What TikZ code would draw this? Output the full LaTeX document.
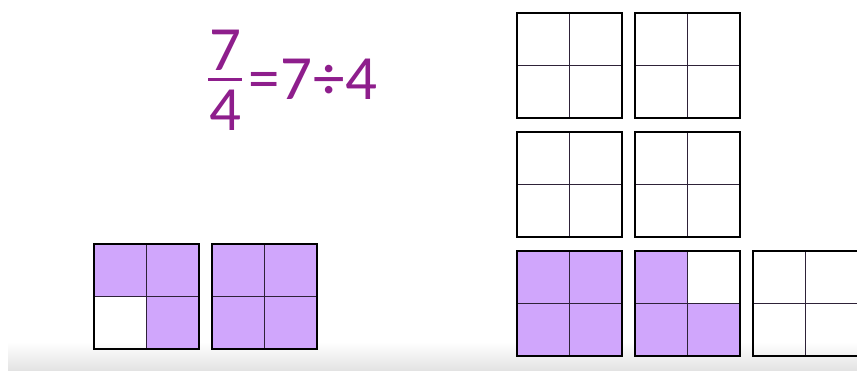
\documentclass[tikz,border=0pt]{standalone}
\usepackage{fontspec}
\setmainfont{Carlito}
\definecolor{lilac}{HTML}{D0A6FC}
\definecolor{plum}{HTML}{8E1E8C}
\definecolor{gridline}{HTML}{2E2238}
\begin{document}
\begin{tikzpicture}[x=1pt,y=-1pt,
    eqtext/.style={plum,inner sep=0pt,font=\fontsize{63}{63}\selectfont},
    outer/.style={line width=2.9pt,line join=miter},
    inner/.style={gridline,line width=1.8pt}]
    \useasboundingbox (0,0) rectangle (857,370);
    \fill[white] (0,0) rectangle (857,370);
    \shade[top color=white,bottom color=black!11] (8,342) rectangle (857,370);
    \node[eqtext] (num) at (225,50) {7};
    \node[eqtext] (den) at (225,110) {4};
    \draw[plum,line width=3pt] (208,79) -- (242,79);
    \node[eqtext] (rhs) at (313,79) {=\kern1pt7\kern1pt÷\kern1pt4};
    \clip (0,0) rectangle (857,370);
    \foreach \sx/\sy/\cx/\cy in {94/244/0/0,94/244/1/0,94/244/1/1,
        212/244/0/0,212/244/1/0,212/244/0/1,212/244/1/1,
        517/251/0/0,517/251/1/0,517/251/0/1,517/251/1/1,
        635/251/0/0,635/251/0/1,635/251/1/1}
      \fill[lilac] (\sx+\cx*52.5,\sy+\cy*52.5) rectangle ++(52.5,52.5);
    \foreach \sx/\sy in {94/244,212/244,517/13,635/13,517/132,635/132,517/251,635/251,753/251} {
      \draw[inner] (\sx+52.5,\sy) -- ++(0,105) (\sx,\sy+52.5) -- ++(105,0);
      \draw[outer] (\sx,\sy) rectangle ++(105,105);
    }
  \end{tikzpicture}
\end{document}
